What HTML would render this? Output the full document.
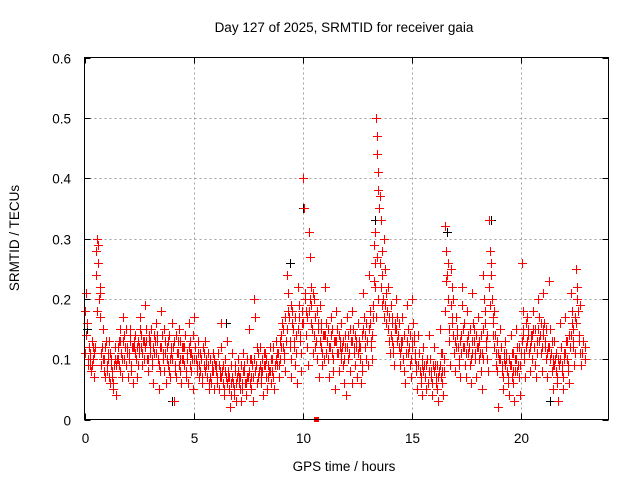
<!DOCTYPE html>
<html><head><meta charset="utf-8"><style>
html,body{margin:0;padding:0;background:#fff}
svg{display:block;font-family:"Liberation Sans",sans-serif}
</style></head><body>
<svg id="chart" width="640" height="480" viewBox="0 0 640 480">
<rect width="640" height="480" fill="#fff"/>
<text x="344" y="32" font-size="13.5" text-anchor="middle" fill="#000">Day 127 of 2025, SRMTID for receiver gaia</text>
<text x="344" y="471" font-size="13.5" text-anchor="middle" fill="#000">GPS time / hours</text>
<text transform="translate(19,238) rotate(-90)" font-size="13.5" text-anchor="middle" fill="#000">SRMTID / TECUs</text>
<g id="grid"></g>
<g id="ticks"></g>
<g id="black-series" shape-rendering="crispEdges"></g>
<g id="red-series" shape-rendering="crispEdges"></g>
<rect x="84.5" y="57.5" width="524" height="362" fill="none" stroke="#000" stroke-width="1"/>
</svg>
<script>
const xTicks = [0, 5, 10, 15, 20];
const yTicks = [0, 0.1, 0.2, 0.3, 0.4, 0.5, 0.6];
const yTickLabels = ["0", "0.1", "0.2", "0.3", "0.4", "0.5", "0.6"];
const binStarts = [0,0.25,0.5,0.75,1,1.25,1.5,1.75,2,2.25,2.5,2.75,3,3.25,3.5,3.75,4,4.25,4.5,4.75,5,5.25,5.5,5.75,6,6.25,6.5,6.75,7,7.25,7.5,7.75,8,8.25,8.5,8.75,9,9.25,9.5,9.75,10,10.25,10.5,10.75,11,11.25,11.5,11.75,12,12.25,12.5,12.75,13,13.25,13.5,13.75,14,14.25,14.5,14.75,15,15.25,15.5,15.75,16,16.25,16.5,16.75,17,17.25,17.5,17.75,18,18.25,18.5,18.75,19,19.25,19.5,19.75,20,20.25,20.5,20.75,21,21.25,21.5,21.75,22,22.25,22.5,22.75];
const redValues = [
[0.18,0.21,0.16,0.10,0.12,0.09],[0.11,0.08,0.13,0.10,0.07,0.12],[0.28,0.30,0.26,0.20,0.22,0.17],[0.09,0.12,0.15,0.10,0.07,0.13],
[0.08,0.10,0.13,0.06,0.11,0.09],[0.07,0.05,0.09,0.12,0.04,0.10],[0.10,0.13,0.08,0.15,0.11,0.07],[0.17,0.14,0.12,0.09,0.11,0.07],
[0.10,0.13,0.15,0.08,0.12,0.06],[0.12,0.14,0.10,0.07,0.13,0.11],[0.15,0.17,0.12,0.09,0.13,0.10],[0.19,0.13,0.10,0.08,0.14,0.11],
[0.12,0.15,0.09,0.06,0.11,0.13],[0.16,0.13,0.10,0.05,0.12,0.08],[0.18,0.14,0.11,0.08,0.13,0.06],[0.12,0.09,0.14,0.07,0.10,0.11],
[0.16,0.12,0.03,0.09,0.07,0.11],[0.13,0.15,0.10,0.08,0.06,0.12],[0.12,0.09,0.14,0.07,0.10,0.06],[0.16,0.11,0.13,0.08,0.10,0.05],
[0.17,0.12,0.10,0.08,0.13,0.07],[0.11,0.08,0.10,0.06,0.12,0.09],[0.13,0.09,0.07,0.11,0.05,0.10],[0.10,0.06,0.08,0.11,0.05,0.09],
[0.09,0.07,0.11,0.05,0.08,0.12],[0.16,0.08,0.06,0.04,0.10,0.07],[0.13,0.07,0.05,0.02,0.09,0.06],[0.11,0.06,0.04,0.08,0.03,0.07],
[0.10,0.07,0.05,0.09,0.03,0.06],[0.11,0.08,0.06,0.04,0.10,0.07],[0.15,0.10,0.07,0.05,0.09,0.03],[0.20,0.17,0.09,0.06,0.11,0.08],
[0.12,0.08,0.06,0.10,0.04,0.09],[0.11,0.07,0.05,0.09,0.08,0.12],[0.10,0.06,0.08,0.12,0.05,0.09],[0.13,0.09,0.11,0.07,0.10,0.12],
[0.14,0.16,0.12,0.10,0.08,0.13],[0.24,0.21,0.17,0.13,0.10,0.07],[0.18,0.15,0.12,0.09,0.14,0.06],[0.22,0.17,0.14,0.11,0.08,0.16],
[0.40,0.35,0.21,0.18,0.12,0.09],[0.31,0.27,0.22,0.19,0.15,0.11],[0.20,0.17,0.13,0.10,0.16,0.07],[0.19,0.15,0.12,0.09,0.14,0.10],
[0.22,0.16,0.13,0.10,0.07,0.12],[0.17,0.14,0.11,0.08,0.13,0.05],[0.18,0.15,0.11,0.08,0.13,0.10],[0.16,0.12,0.09,0.06,0.14,0.04],
[0.17,0.14,0.11,0.08,0.13,0.06],[0.18,0.15,0.12,0.09,0.13,0.07],[0.16,0.12,0.10,0.06,0.14,0.08],[0.21,0.17,0.14,0.10,0.13,0.09],
[0.24,0.16,0.13,0.10,0.14,0.19],[0.29,0.26,0.22,0.17,0.50,0.47,0.44,0.41,0.38,0.35],[0.37,0.33,0.28,0.24,0.20,0.17],[0.25,0.21,0.18,0.15,0.13,0.11],
[0.19,0.16,0.13,0.11,0.09,0.15],[0.20,0.17,0.14,0.12,0.09,0.13],[0.17,0.13,0.10,0.08,0.06,0.11],[0.19,0.15,0.12,0.09,0.07,0.13],
[0.20,0.16,0.13,0.10,0.08,0.05],[0.14,0.11,0.08,0.06,0.04,0.09],[0.12,0.09,0.07,0.05,0.10,0.06],[0.14,0.10,0.08,0.06,0.04,0.09],
[0.12,0.09,0.07,0.05,0.03,0.08],[0.15,0.11,0.08,0.06,0.04,0.10],[0.32,0.28,0.24,0.20,0.13,0.09],[0.25,0.22,0.17,0.14,0.11,0.08],
[0.17,0.14,0.12,0.09,0.07,0.11],[0.22,0.19,0.15,0.12,0.09,0.07],[0.18,0.14,0.12,0.09,0.06,0.11],[0.21,0.16,0.13,0.10,0.07,0.12],
[0.17,0.13,0.11,0.08,0.05,0.10],[0.24,0.20,0.16,0.13,0.10,0.08],[0.33,0.28,0.24,0.20,0.17,0.14],[0.18,0.14,0.11,0.08,0.02,0.10],
[0.15,0.12,0.09,0.07,0.05,0.10],[0.13,0.10,0.08,0.06,0.04,0.09],[0.14,0.11,0.08,0.06,0.03,0.10],[0.15,0.12,0.09,0.07,0.04,0.11],
[0.26,0.18,0.14,0.10,0.07,0.12],[0.17,0.14,0.11,0.08,0.13,0.10],[0.18,0.15,0.12,0.09,0.07,0.13],[0.20,0.17,0.14,0.11,0.08,0.15],
[0.21,0.16,0.13,0.10,0.07,0.12],[0.23,0.15,0.11,0.08,0.05,0.10],[0.13,0.10,0.08,0.06,0.03,0.09],[0.16,0.12,0.09,0.07,0.05,0.10],
[0.17,0.13,0.10,0.08,0.06,0.12],[0.21,0.18,0.15,0.12,0.09,0.11],[0.25,0.22,0.18,0.14,0.11,0.09],[0.13,0.10]
];
const redValuesCore = [
[0.11,0.14,0.09,0.12],[0.10,0.09,0.12,0.11],[0.24,0.18,0.29,0.21],[0.11,0.10,0.08,0.12],
[0.09,0.11,0.07,0.10],[0.08,0.06,0.10,0.09],[0.12,0.09,0.13,0.10],[0.13,0.10,0.15,0.12],
[0.11,0.14,0.09,0.12],[0.13,0.11,0.12,0.09],[0.12,0.14,0.11,0.13],[0.12,0.15,0.10,0.13],
[0.13,0.10,0.12,0.14],[0.11,0.14,0.09,0.12],[0.12,0.10,0.15,0.11],[0.10,0.13,0.08,0.12],
[0.10,0.13,0.08,0.14],[0.11,0.09,0.13,0.10],[0.10,0.12,0.08,0.11],[0.12,0.09,0.11,0.14],
[0.10,0.12,0.09,0.11],[0.09,0.10,0.07,0.11],[0.08,0.10,0.09,0.06],[0.07,0.09,0.08,0.10],
[0.08,0.06,0.09,0.07],[0.07,0.09,0.05,0.08],[0.06,0.08,0.07,0.04],[0.07,0.05,0.09,0.06],
[0.08,0.06,0.07,0.05],[0.08,0.09,0.06,0.07],[0.08,0.06,0.10,0.07],[0.10,0.08,0.12,0.07],
[0.09,0.07,0.08,0.11],[0.09,0.10,0.07,0.08],[0.08,0.10,0.07,0.09],[0.10,0.11,0.09,0.13],
[0.12,0.15,0.11,0.17],[0.15,0.18,0.12,0.19],[0.16,0.13,0.17,0.11],[0.15,0.19,0.13,0.18],
[0.16,0.20,0.14,0.17],[0.18,0.20,0.16,0.21],[0.14,0.12,0.18,0.15],[0.13,0.16,0.11,0.14],
[0.14,0.11,0.15,0.12],[0.12,0.15,0.10,0.13],[0.13,0.11,0.14,0.12],[0.11,0.13,0.10,0.12],
[0.12,0.10,0.15,0.13],[0.13,0.11,0.14,0.12],[0.11,0.13,0.12,0.09],[0.15,0.12,0.16,0.13],
[0.15,0.18,0.12,0.17],[0.23,0.31,0.27,0.20],[0.26,0.22,0.19,0.30],[0.19,0.16,0.22,0.17],
[0.14,0.17,0.12,0.16],[0.15,0.13,0.16,0.11],[0.12,0.10,0.14,0.11],[0.13,0.11,0.14,0.10],
[0.12,0.14,0.11,0.09],[0.09,0.11,0.07,0.10],[0.08,0.07,0.09,0.10],[0.08,0.10,0.07,0.09],
[0.08,0.06,0.09,0.07],[0.09,0.07,0.11,0.08],[0.18,0.23,0.26,0.15],[0.19,0.16,0.20,0.13],
[0.12,0.15,0.10,0.13],[0.14,0.12,0.16,0.11],[0.13,0.11,0.15,0.10],[0.13,0.15,0.11,0.14],
[0.12,0.10,0.14,0.11],[0.15,0.18,0.12,0.14],[0.22,0.19,0.26,0.16],[0.12,0.09,0.13,0.11],
[0.10,0.12,0.08,0.11],[0.09,0.11,0.07,0.10],[0.09,0.07,0.11,0.08],[0.10,0.08,0.12,0.09],
[0.13,0.15,0.11,0.16],[0.13,0.15,0.12,0.14],[0.14,0.12,0.15,0.11],[0.15,0.13,0.16,0.12],
[0.14,0.12,0.15,0.11],[0.12,0.10,0.13,0.09],[0.09,0.11,0.07,0.10],[0.10,0.12,0.08,0.11],
[0.11,0.13,0.09,0.14],[0.14,0.16,0.13,0.17],[0.16,0.20,0.13,0.19],[0.11,0.12]
];
const blackTimes = [0.1,4.0,6.5,9.4,10.0,13.3,16.6,18.6,21.3,22.5];
const blackValues = [0.15,0.03,0.16,0.26,0.35,0.33,0.31,0.33,0.03,0.25];
const squareTimes = [10.6];
const squareValues = [0];

const X0 = 84.5, X1 = 608.5, Y0 = 419.5, Y1 = 57.5;
const xMax = 24, yMax = 0.6;
function xs(t){ return X0 + t / xMax * (X1 - X0); }
function ys(v){ return Y0 - v / yMax * (Y0 - Y1); }
const NS = "http://www.w3.org/2000/svg";
const grid = document.getElementById("grid");
const ticks = document.getElementById("ticks");

function mk(tag, attrs){ const e = document.createElementNS(NS, tag); for (const k in attrs) e.setAttribute(k, attrs[k]); return e; }

yTicks.forEach((v, i) => {
  const y = Math.round(ys(v)) + 0.5;
  if (v > 0 && v < yMax) {
    const g = mk("line", {x1: X0, x2: X1, y1: y, y2: y, stroke: "#a0a0a0", "stroke-dasharray": "2,3"});
    
    
    grid.appendChild(g);
  }
  const t1 = mk("line", {x1: X0, x2: X0 + 6, y1: y, y2: y, stroke: "#000"});
  
  
  ticks.appendChild(t1);
  const t2 = mk("line", {x1: X1 - 6, x2: X1, y1: y, y2: y, stroke: "#000"});
  
  
  ticks.appendChild(t2);
  const lb = mk("text", {x: 71, y: y + 5, "font-size": "13.5", "text-anchor": "end"});
  lb.textContent = yTickLabels[i];
  
  
  ticks.appendChild(lb);
});
xTicks.forEach(t => {
  const x = Math.round(xs(t)) + 0.5;
  if (t > 0) {
    const g = mk("line", {x1: x, x2: x, y1: Y0, y2: Y1, stroke: "#a0a0a0", "stroke-dasharray": "2,3"});
    
    
    grid.appendChild(g);
  }
  const t1 = mk("line", {x1: x, x2: x, y1: Y0, y2: Y0 - 6, stroke: "#000"});
  
  
  ticks.appendChild(t1);
  const t2 = mk("line", {x1: x, x2: x, y1: Y1, y2: Y1 + 6, stroke: "#000"});
  
  
  ticks.appendChild(t2);
  const lb = mk("text", {x: x, y: 443, "font-size": "13.5", "text-anchor": "middle"});
  lb.textContent = String(t);
  
  
  ticks.appendChild(lb);
});

function cross(parent, t, v, color, name){
  const x = Math.round(xs(t)), y = Math.round(ys(v));
  const h = mk("rect", {x: x - 4, y: y, width: 9, height: 1, fill: color});
  
  
  parent.appendChild(h);
  const vline = mk("rect", {x: x, y: y - 4, width: 1, height: 9, fill: color});
  
  
  parent.appendChild(vline);
}
const blk = document.getElementById("black-series");
blackTimes.forEach((t, i) => cross(blk, t, blackValues[i], "#000000", "black-point"));
const red = document.getElementById("red-series");
function drawBins(arr, offset){
  binStarts.forEach((t0, i) => {
    const vals = arr[i];
    vals.forEach((v, j) => {
      const t = t0 + (j + offset) / vals.length * 0.25;
      cross(red, t, v, "#ff0000", "red-point");
    });
  });
}
drawBins(redValues, 0.5);
drawBins(redValuesCore, 0.25);
squareTimes.forEach((t, i) => {
  const s = mk("rect", {x: Math.round(xs(t)) - 2, y: Math.round(ys(squareValues[i])) - 3, width: 5, height: 5, fill: "#ff0000"});
  
  
  red.appendChild(s);
});
</script>
</body></html>
